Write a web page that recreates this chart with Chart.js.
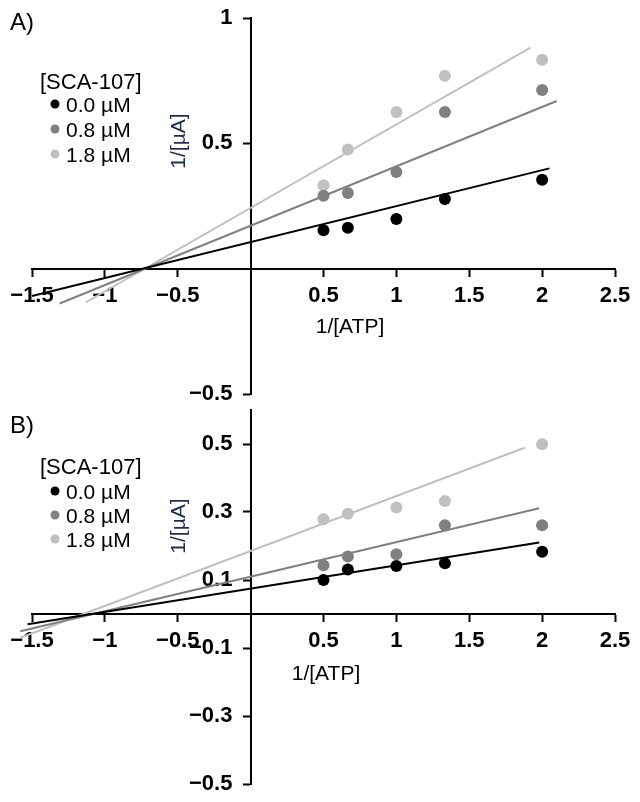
<!DOCTYPE html>
<html>
<head>
<meta charset="utf-8">
<script src="https://cdn.jsdelivr.net/npm/chart.js@4"></script>
<style>
  body { margin: 0; background: #fff; }
  #wrap { position: relative; width: 640px; height: 802px; font-family: "Liberation Sans", Arial, sans-serif; }
  .cv { position: absolute; left: 0; }
  .txt { position: absolute; white-space: nowrap; line-height: 1; color: #000; }
  .mid { transform: translate(0, -50%); }
  .ctr { transform: translate(-50%, -50%); }
  .ytitle { transform: translate(-50%, -50%) rotate(-90deg); color: #1f2d4d; font-size: 21px; }
  .dot { display: inline-block; width: 9px; height: 9px; border-radius: 50%; position: absolute; transform: translate(-50%, -50%); }
</style>
</head>
<body>
<div id="wrap">
  <canvas id="chartA" class="cv" style="top:0px"></canvas>
  <canvas id="chartB" class="cv" style="top:400px"></canvas>
  <div id="labels"></div>
</div>
<script>
// x values (1/[ATP]) shared by both panels
const xVals = [0.5, 0.667, 1, 1.333, 2];
const xTicks = [-1.5, -1, -0.5, 0.5, 1, 1.5, 2, 2.5];

// Panel A, 1/[uA]
const a00 = [0.153, 0.163, 0.198, 0.278, 0.355];
const a08 = [0.291, 0.302, 0.386, 0.625, 0.713];
const a18 = [0.333, 0.475, 0.625, 0.770, 0.833];
// fitted lines, ends
const aFit00 = { x: [-1.5, 2.05], y: [-0.109, 0.40] };
const aFit08 = { x: [-1.31, 2.10], y: [-0.139, 0.669] };
const aFit18 = { x: [-1.13, 1.92], y: [-0.134, 0.882] };
const yTicksA = [-0.5, 0.5, 1];

// Panel B
const b00 = [0.100, 0.131, 0.141, 0.149, 0.183];
const b08 = [0.143, 0.169, 0.176, 0.261, 0.261];
const b18 = [0.279, 0.295, 0.313, 0.332, 0.499];
const bFit00 = { x: [-1.53, 1.98], y: [-0.03, 0.21] };
const bFit08 = { x: [-1.58, 1.98], y: [-0.051, 0.311] };
const bFit18 = { x: [-1.58, 1.88], y: [-0.07, 0.489] };
const yTicksB = [-0.5, -0.3, -0.1, 0.1, 0.3, 0.5];

const legendLabels = ['0.0 µM', '0.8 µM', '1.8 µM'];
const colors = ['#000000', '#808080', '#c0c0c0'];

Chart.defaults.font.family = '"Liberation Sans", Arial, sans-serif';

const fmt = v => {
  const s = String(Math.abs(v));
  return v < 0 ? '\u2212' + s : s;
};

function pts(xs, ys) {
  return xs.map((x, i) => ({ x: x, y: ys[i] }));
}

// axes sit inside the chart area, so don't let their labels shrink it
const noPad = s => { s.paddingTop = 0; s.paddingBottom = 0; s.paddingLeft = 0; s.paddingRight = 0; };

function buildChart(id, height, pad, yMin, yMax, yTicks, series, fits) {
  const datasets = [];
  series.forEach((ys, i) => {
    datasets.push({
      data: pts(xVals, ys),
      backgroundColor: colors[i],
      borderColor: colors[i],
      pointRadius: 6,
      pointHoverRadius: 6,
      borderWidth: 0,
      order: 0
    });
  });
  fits.forEach((f, i) => {
    datasets.push({
      data: pts(f.x, f.y),
      showLine: true,
      borderColor: colors[i],
      borderWidth: 2,
      pointRadius: 0,
      clip: false,
      order: 1
    });
  });

  const tickFont = { size: 22, weight: 'bold' };
  const canvas = document.getElementById(id);
  canvas.width = 640;
  canvas.height = height;
  canvas.style.width = '640px';
  canvas.style.height = height + 'px';

  return new Chart(canvas, {
    type: 'scatter',
    data: { datasets: datasets },
    options: {
      responsive: false,
      animation: false,
      layout: { padding: pad },
      plugins: { legend: { display: false }, tooltip: { enabled: false } },
      scales: {
        x: {
          type: 'linear',
          min: -1.5,
          max: 2.5,
          position: { y: 0 },
          afterBuildTicks: s => { s.ticks = xTicks.map(v => ({ value: v })); },
          afterFit: noPad,
          ticks: { color: '#000', font: tickFont, padding: 7, maxRotation: 0, autoSkip: false, callback: v => fmt(v) },
          grid: { drawOnChartArea: false, drawTicks: true, tickLength: 7, tickWidth: 2, tickColor: '#000' },
          border: { display: true, color: '#000', width: 2 }
        },
        y: {
          type: 'linear',
          min: yMin,
          max: yMax,
          position: { x: 0 },
          afterBuildTicks: s => { s.ticks = yTicks.map(v => ({ value: v })); },
          afterFit: noPad,
          ticks: { display: false },
          grid: { drawOnChartArea: false, drawTicks: true, tickLength: 7, tickWidth: 2, tickColor: '#000' },
          border: { display: true, color: '#000', width: 2 }
        },
        // label-only axis so the y tick labels stand off the axis line
        yLabels: {
          type: 'linear',
          axis: 'y',
          min: yMin,
          max: yMax,
          position: { x: -0.125 },
          afterBuildTicks: s => { s.ticks = yTicks.map(v => ({ value: v })); },
          afterFit: noPad,
          ticks: { color: '#000', font: tickFont, autoSkip: false, callback: v => fmt(v) },
          grid: { display: false },
          border: { display: false }
        }
      }
    }
  });
}

buildChart('chartA', 400, { left: 32, right: 25, top: 18, bottom: 5 }, -0.5, 1, yTicksA,
  [a00, a08, a18], [aFit00, aFit08, aFit18]);
buildChart('chartB', 402, { left: 32, right: 25, top: 10, bottom: 18 }, -0.5, 0.6, yTicksB,
  [b00, b08, b18], [bFit00, bFit08, bFit18]);

// text: panel letters, legend, axis titles
const labels = document.getElementById('labels');
function addText(text, cls, x, y, size) {
  const d = document.createElement('div');
  d.className = 'txt ' + cls;
  d.textContent = text;
  d.style.left = x + 'px';
  d.style.top = y + 'px';
  if (size) d.style.fontSize = size + 'px';
  labels.appendChild(d);
}
function addPanelText(letter, top, legendTop, itemTops, yTitle, xTitle) {
  addText(letter, 'mid', 10, top, 24);
  addText('[SCA-107]', 'mid', 40, legendTop, 22);
  legendLabels.forEach((t, i) => {
    const dot = document.createElement('span');
    dot.className = 'dot';
    dot.style.left = '55px';
    dot.style.top = itemTops[i] + 'px';
    dot.style.background = colors[i];
    labels.appendChild(dot);
    addText(t, 'mid', 66, itemTops[i], 21);
  });
  addText('1/[µA]', 'ytitle', yTitle[0], yTitle[1], null);
  addText('1/[ATP]', 'ctr', xTitle[0], xTitle[1], 21);
}
addPanelText('A)', 22, 82, [104, 129, 154], [177, 141], [350, 325]);
addPanelText('B)', 425, 467, [491, 515, 539], [177, 526], [326, 672]);
</script>
</body>
</html>
